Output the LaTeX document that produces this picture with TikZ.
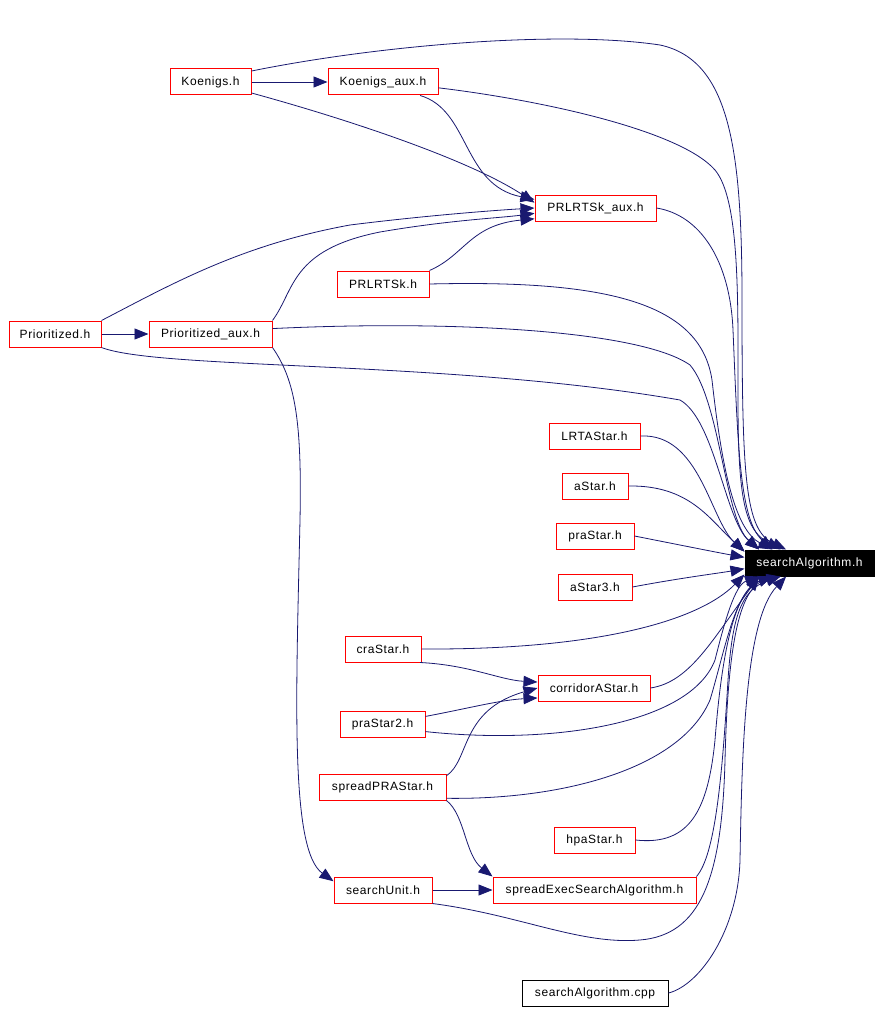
\documentclass[tikz,border=0pt]{standalone}
\usepackage{fontspec}
\setmainfont{Liberation Sans}[LetterSpace=5]
\usetikzlibrary{arrows.meta}
\definecolor{edgeblue}{RGB}{25,25,112}
\tikzset{
    file/.style={draw=red,line width=1pt,minimum height=26pt,inner sep=0pt,font=\fontsize{12}{14}\selectfont},
    mainfile/.style={file,draw=black,fill=black,text=white},
    srcfile/.style={file,draw=black},
    dep/.style={draw=edgeblue,line width=0.8pt,-{Triangle[length=14pt,width=11pt]}}
}
\begin{document}
\begin{tikzpicture}[x=1pt,y=-1pt]
    \useasboundingbox[fill=white] (0,0) rectangle (882,1014);
    \node[file,minimum width=81pt] (koenigs) at (210.5,82) {Koenigs.h};
    \node[file,minimum width=110pt] (koenigsaux) at (383,82) {Koenigs\_aux.h};
    \node[file,minimum width=121pt] (prlrtskaux) at (595.5,208) {PRLRTSk\_aux.h};
    \node[file,minimum width=92pt] (prlrtsk) at (383,284) {PRLRTSk.h};
    \node[file,minimum width=92pt] (prioritized) at (55,334) {Prioritized.h};
    \node[file,minimum width=123pt] (prioritizedaux) at (210.5,334) {Prioritized\_aux.h};
    \node[file,minimum width=91pt] (lrtastar) at (594.5,436) {LRTAStar.h};
    \node[file,minimum width=66pt] (astar) at (595,486) {aStar.h};
    \node[file,minimum width=78pt] (prastar) at (595,536) {praStar.h};
    \node[file,minimum width=74pt] (astarthree) at (595,587) {aStar3.h};
    \node[mainfile,minimum width=129pt] (searchalg) at (809.5,563) {searchAlgorithm.h};
    \node[file,minimum width=76pt] (crastar) at (383,649) {craStar.h};
    \node[file,minimum width=112pt] (corridor) at (594,688) {corridorAStar.h};
    \node[file,minimum width=85pt] (prastartwo) at (382.5,724) {praStar2.h};
    \node[file,minimum width=127pt] (spreadpra) at (382.5,787) {spreadPRAStar.h};
    \node[file,minimum width=81pt] (hpastar) at (594.5,840) {hpaStar.h};
    \node[file,minimum width=98pt] (searchunit) at (383,890) {searchUnit.h};
    \node[file,minimum width=203pt] (spreadexec) at (594.5,890) {spreadExecSearchAlgorithm.h};
    \node[srcfile,minimum width=146pt] (cpp) at (595,993) {searchAlgorithm.cpp};

    % top group
    \draw[dep] (koenigs) -- (koenigsaux);
    \draw[dep] (koenigs.-15) .. controls (350,120) and (470,160) .. (prlrtskaux.175);
    \draw[dep] (koenigs.15) .. controls (380,45) and (560,30) .. (660,45)
        .. controls (730,60) and (742,150) .. (742,300)
        .. controls (742,480) and (745,530) .. (searchalg.150);
    \draw[dep] (koenigsaux.-20) .. controls (470,110) and (462,185) .. (prlrtskaux.172);
    \draw[dep] (koenigsaux.-6) .. controls (540,100) and (680,130) .. (715,170)
        .. controls (740,200) and (738,300) .. (738,400)
        .. controls (738,500) and (745,530) .. (searchalg.155);
    \draw[dep] (prlrtskaux.east) .. controls (700,215) and (730,260) .. (733,330)
        .. controls (738,450) and (740,520) .. (searchalg.160);
    \draw[dep] (prlrtsk.north east) .. controls (465,255) and (470,225) .. (prlrtskaux.190);
    \draw[dep] (prlrtsk.east) .. controls (600,280) and (700,300) .. (712,380)
        .. controls (722,470) and (735,530) .. (searchalg.160);
    \draw[dep] (prioritized) -- (prioritizedaux);
    \draw[dep] (prioritized.north east) .. controls (170,285) and (240,245) .. (350,225)
        .. controls (430,215) and (500,210) .. (prlrtskaux.180);
    \draw[dep] (prioritized.south east) .. controls (160,370) and (450,360) .. (680,400)
        .. controls (715,420) and (725,520) .. (searchalg.165);
    \draw[dep] (prioritizedaux.north east) .. controls (295,290) and (290,250) .. (380,232)
        .. controls (450,220) and (500,218) .. (prlrtskaux.185);
    \draw[dep] (prioritizedaux.5) .. controls (450,320) and (640,330) .. (690,365)
        .. controls (720,400) and (725,520) .. (searchalg.165);
    \draw[dep] (prioritizedaux.south east) .. controls (295,380) and (302,420) .. (300,520)
        .. controls (296,700) and (290,850) .. (searchunit.170);

    % middle group
    \draw[dep] (lrtastar.east) .. controls (700,433) and (710,520) .. (searchalg.170);
    \draw[dep] (astar.east) .. controls (690,485) and (710,520) .. (searchalg.170);
    \draw[dep] (prastar.east) .. controls (680,545) and (720,553) .. (searchalg.175);
    \draw[dep] (astarthree.east) .. controls (680,578) and (720,573) .. (searchalg.185);

    % bottom group
    \draw[dep] (crastar.east) .. controls (600,650) and (700,620) .. (searchalg.190);
    \draw[dep] (crastar.-20) .. controls (470,665) and (500,680) .. (corridor.174);
    \draw[dep] (corridor.east) .. controls (690,682) and (712,640) .. (searchalg.195);
    \draw[dep] (prastartwo.10) .. controls (470,708) and (500,700) .. (corridor.190);
    \draw[dep] (prastartwo.-10) .. controls (550,745) and (690,725) .. (715,660)
        .. controls (725,620) and (735,585) .. (searchalg.195);
    \draw[dep] (spreadpra.10) .. controls (470,760) and (460,710) .. (corridor.180);
    \draw[dep] (spreadpra.-10) .. controls (560,800) and (680,770) .. (710,700)
        .. controls (725,650) and (735,590) .. (searchalg.200);
    \draw[dep] (spreadpra.south east) .. controls (465,815) and (465,855) .. (spreadexec.north west);
    \draw[dep] (hpastar.east) .. controls (690,846) and (708,810) .. (715,740)
        .. controls (722,650) and (735,590) .. (searchalg.200);
    \draw[dep] (searchunit) -- (spreadexec);
    \draw[dep] (searchunit.south east) .. controls (520,915) and (580,945) .. (640,940)
        .. controls (700,935) and (722,880) .. (725,760)
        .. controls (728,640) and (740,585) .. (searchalg.205);
    \draw[dep] (spreadexec.north east) .. controls (715,855) and (722,780) .. (728,680)
        .. controls (732,620) and (740,590) .. (searchalg.205);
    \draw[dep] (cpp.east) .. controls (700,985) and (738,930) .. (740,860)
        .. controls (742,750) and (745,620) .. (searchalg.210);
\end{tikzpicture}
\end{document}
